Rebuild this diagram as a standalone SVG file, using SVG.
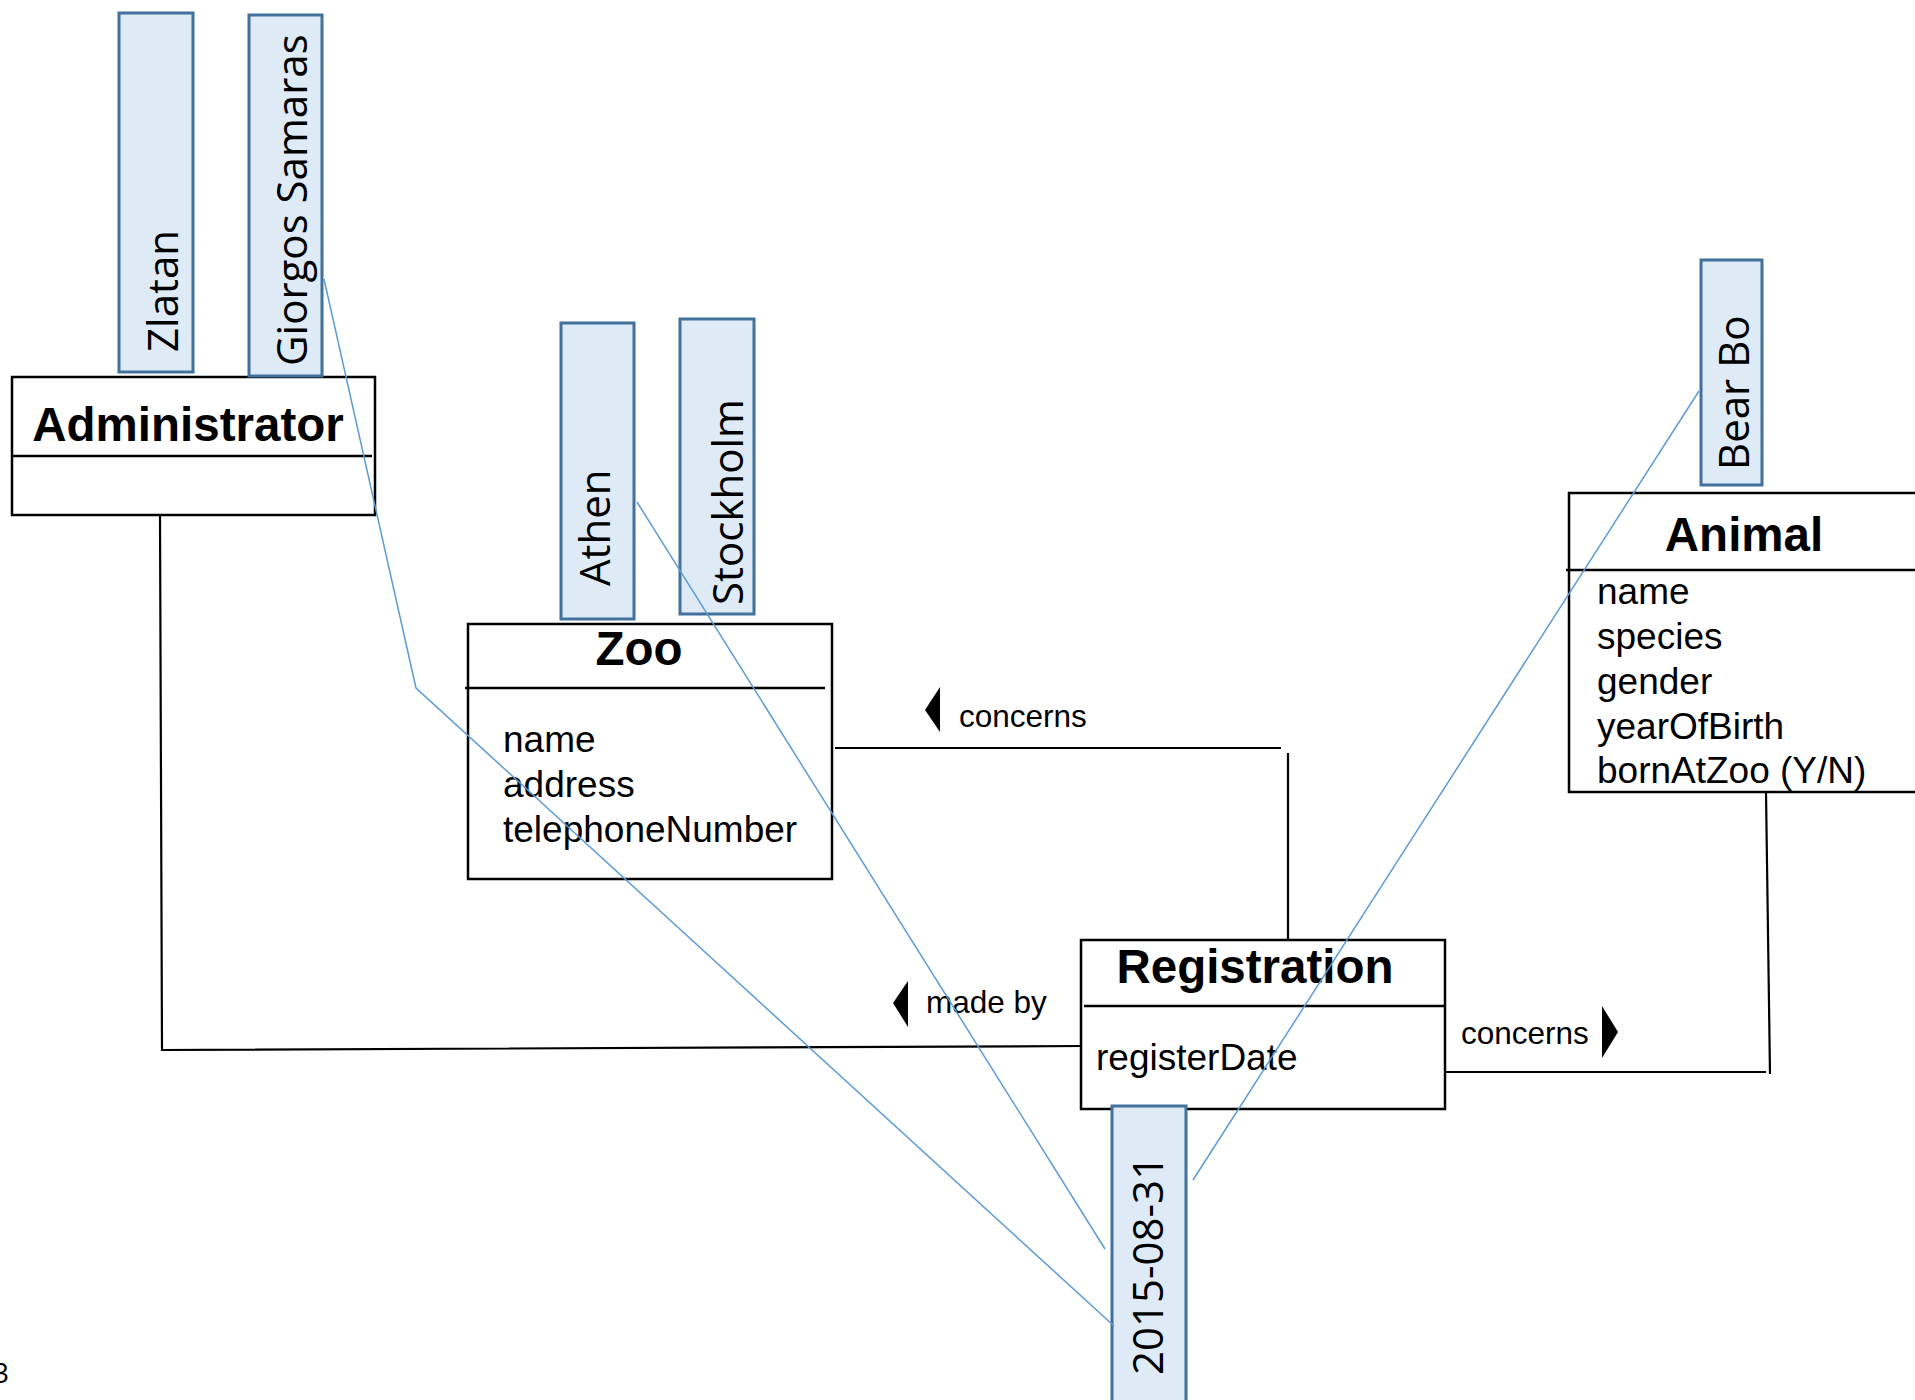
<svg xmlns="http://www.w3.org/2000/svg" width="1915" height="1400" viewBox="0 0 1915 1400">
<style>
.cls{fill:#fff;stroke:#000;stroke-width:2.5}
.div{stroke:#000;stroke-width:2.5;fill:none}
.title{font-family:"Liberation Sans",Arial,sans-serif;font-weight:bold;font-size:47.5px;fill:#000;text-anchor:middle}
.attr{font-family:"Liberation Sans",Arial,sans-serif;font-size:37px;fill:#000}
.lbl{font-family:"Liberation Sans",Arial,sans-serif;font-size:31.5px;fill:#000}
.val{fill:#DEEBF7;stroke:#41719C;stroke-width:3}
.vtxt{font-family:"Open Sans","Noto Sans",sans-serif;font-size:42px;fill:#000}
.conn{stroke:#000;stroke-width:2.2;fill:none}
.link{stroke:#5B9BD5;stroke-width:1.5;fill:none}
</style>
<rect width="1915" height="1400" fill="#fff"/>

<g id="connectors">
<polyline class="conn" points="160,515 162,1050 1084,1046"/>
<line class="conn" x1="835" y1="748" x2="1281" y2="748"/>
<line class="conn" x1="1288" y1="753" x2="1288" y2="940"/>
<line class="conn" x1="1445" y1="1072" x2="1766" y2="1072"/>
<line class="conn" x1="1766" y1="792" x2="1770" y2="1074"/>
<polygon points="940,687 925,710 940,732" fill="#000"/>
<text class="lbl" x="959" y="727">concerns</text>
<polygon points="908,981 893,1003 908,1027" fill="#000"/>
<text class="lbl" x="926" y="1013">made by</text>
<polygon points="1602,1006 1618,1032 1602,1058" fill="#000"/>
<text class="lbl" x="1461" y="1044">concerns</text>
</g>

<g id="Administrator">
<rect class="cls" x="12" y="377" width="363" height="138"/>
<line class="div" x1="12" y1="456" x2="372" y2="456"/>
<text class="title" x="188" y="441" font-size="48.5">Administrator</text>
</g>

<g id="Zoo">
<rect class="cls" x="468" y="624" width="364" height="255"/>
<line class="div" x1="465" y1="688" x2="825" y2="688"/>
<text class="title" x="639" y="665">Zoo</text>
<text class="attr" x="503" y="752">name</text>
<text class="attr" x="503" y="797">address</text>
<text class="attr" x="503" y="842">telephoneNumber</text>
</g>

<g id="Registration">
<rect class="cls" x="1081" y="940" width="364" height="169"/>
<line class="div" x1="1084" y1="1006" x2="1445" y2="1006"/>
<text class="title" x="1255" y="983">Registration</text>
<text class="attr" x="1096" y="1070">registerDate</text>
</g>

<g id="Animal">
<rect class="cls" x="1569" y="493" width="400" height="299"/>
<line class="div" x1="1566" y1="570" x2="1915" y2="570"/>
<text class="title" x="1744" y="551">Animal</text>
<text class="attr" x="1597" y="604">name</text>
<text class="attr" x="1597" y="649">species</text>
<text class="attr" x="1597" y="694">gender</text>
<text class="attr" x="1597" y="739">yearOfBirth</text>
<text class="attr" x="1597" y="783">bornAtZoo (Y/N)</text>
</g>

<g id="val-Zlatan">
<rect class="val" x="119" y="13" width="74" height="359"/>
<text class="vtxt" transform="translate(178,352) rotate(-90)">Zlatan</text>
</g>
<g id="val-Giorgos">
<rect class="val" x="249" y="15" width="73" height="361"/>
<text class="vtxt" transform="translate(307,366) rotate(-90)">Giorgos Samaras</text>
</g>
<g id="val-Athen">
<rect class="val" x="561" y="323" width="73" height="296"/>
<text class="vtxt" transform="translate(610,586) rotate(-90)">Athen</text>
</g>
<g id="val-Stockholm">
<rect class="val" x="680" y="319" width="74" height="295"/>
<text class="vtxt" transform="translate(743,605) rotate(-90)">Stockholm</text>
</g>
<g id="val-BearBo">
<rect class="val" x="1701" y="260" width="61" height="225"/>
<text class="vtxt" transform="translate(1749,470) rotate(-90)">Bear Bo</text>
</g>
<g id="val-Date">
<rect class="val" x="1112" y="1106" width="74" height="300"/>
<text class="vtxt" transform="translate(1163,1375) rotate(-90)">2015-08-31</text>
</g>

<g id="instance-links">
<polyline class="link" points="324,279 416,688 1114,1326"/>
<line class="link" x1="637" y1="502" x2="1105" y2="1249"/>
<line class="link" x1="1699" y1="391" x2="1193" y2="1180"/>
</g>

<text x="-7" y="1383" font-family="Open Sans, sans-serif" font-size="28" fill="#000">3</text>
</svg>
